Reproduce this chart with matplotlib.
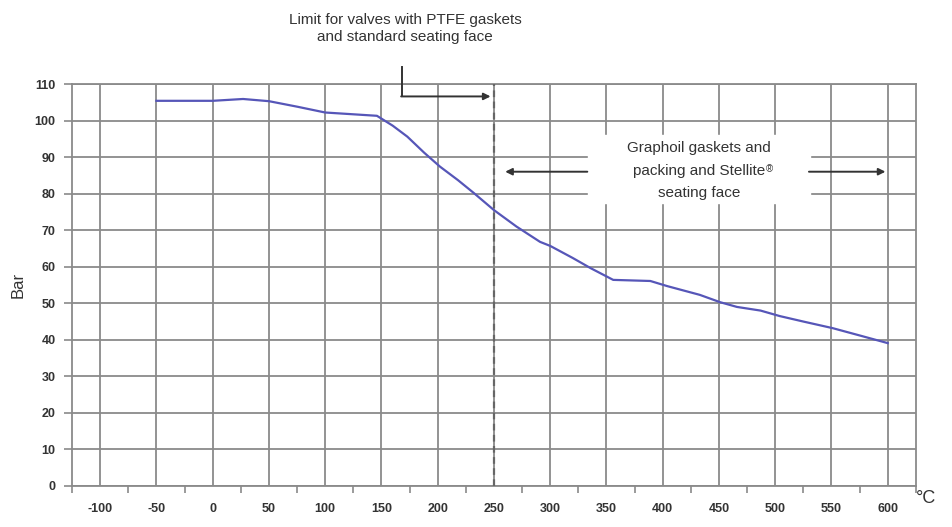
import numpy as np
import matplotlib
matplotlib.use("Agg")
import matplotlib.pyplot as plt
from matplotlib.ticker import FixedLocator

plt.rcParams['font.family'] = ['Liberation Sans', 'DejaVu Sans']
plt.rcParams['axes.unicode_minus'] = False

# pressure/temperature curve
temp_c = [-50, 0, 27, 50, 75, 100, 146, 160, 173, 188, 202, 218, 232, 250, 270,
          291, 300, 320, 336, 356, 389, 404, 433, 451, 466, 487, 504, 525, 551, 575, 600]
pressure_bar = [105.4, 105.4, 105.9, 105.3, 103.8, 102.2, 101.3, 98.6, 95.6, 91.2, 87.4, 83.7, 80.2,
                75.5, 71.0, 66.8, 65.7, 62.4, 59.6, 56.4, 56.1, 54.7, 52.3, 50.3, 49.0, 48.0,
                46.5, 45.0, 43.2, 41.2, 39.1]

x_ticks = list(range(-100, 601, 50))
y_ticks = list(range(0, 111, 10))
ptfe_limit = 250

fig = plt.figure(figsize=(9.53, 5.27), dpi=100)
ax = fig.add_axes([0.0756, 0.0778, 0.961 - 0.0756, 0.8406 - 0.0778])

ax.set_xlim(-125, 625)
ax.set_ylim(0, 110)

grid_col = '#8a8a8a'
txt_col = '#333333'
ax.set_xticks(x_ticks)
ax.set_yticks(y_ticks)
ax.xaxis.set_minor_locator(FixedLocator(np.arange(-125, 626, 50)))
ax.grid(True, which='major', color=grid_col, linewidth=1.3)
ax.set_axisbelow(True)
ax.tick_params(axis='x', which='major', length=0, pad=12)
ax.tick_params(axis='x', which='minor', length=5, width=1.2, color=grid_col, direction='out')
ax.tick_params(axis='y', length=6, width=1.2, color=grid_col, pad=6)
for lab in ax.get_xticklabels() + ax.get_yticklabels():
    lab.set_fontweight('bold')
    lab.set_fontsize(9)
    lab.set_color(txt_col)
for s in ax.spines.values():
    s.set_color(grid_col)
    s.set_linewidth(1.3)

ax.plot(temp_c, pressure_bar, color='#5656b8', linewidth=1.6, zorder=3)

# PTFE limit
ax.axvline(ptfe_limit, color='#666666', linestyle=(0, (3, 2)), linewidth=1.6, zorder=3)

ax.set_ylabel('Bar', fontsize=12, color=txt_col, labelpad=6)
fig.text(0.972, 0.055, '°C', fontsize=13, color=txt_col, ha='center', va='center')

fig.text(0.425, 0.975, 'Limit for valves with PTFE gaskets\nand standard seating face',
         fontsize=11, color=txt_col, ha='center', va='top', linespacing=1.3)

# bent arrow to the PTFE limit
arrow_kw = dict(arrowstyle='-|>', color=txt_col, lw=1.4, mutation_scale=10, shrinkA=0, shrinkB=0)
ax.plot([168, 168], [114.7, 106.6], color=txt_col, linewidth=1.4, clip_on=False, zorder=4)
ax.annotate('', xy=(247, 106.6), xytext=(167.5, 106.6), arrowprops=arrow_kw, zorder=4)

# Graphoil region
ax.annotate('', xy=(260, 86), xytext=(333, 86), arrowprops=arrow_kw, zorder=4)
ax.annotate('', xy=(598, 86), xytext=(530, 86), arrowprops=arrow_kw, zorder=4)
ax.fill_between([334, 531], 77.4, 96, color='white', zorder=2)
ax.text(432, 92.6, 'Graphoil gaskets and', fontsize=11, color=txt_col,
        ha='center', va='center', zorder=5)
mid = ax.text(432, 86.3, 'packing and Stellite', fontsize=11, color=txt_col,
              ha='center', va='center', zorder=5)
ax.annotate('®', xy=(1, 0.95), xycoords=mid, xytext=(1, 0), textcoords='offset points',
            fontsize=7, color=txt_col, ha='left', va='top', zorder=5)
ax.text(432, 80.2, 'seating face', fontsize=11, color=txt_col,
        ha='center', va='center', zorder=5)

fig.savefig('out.png', dpi=100)
